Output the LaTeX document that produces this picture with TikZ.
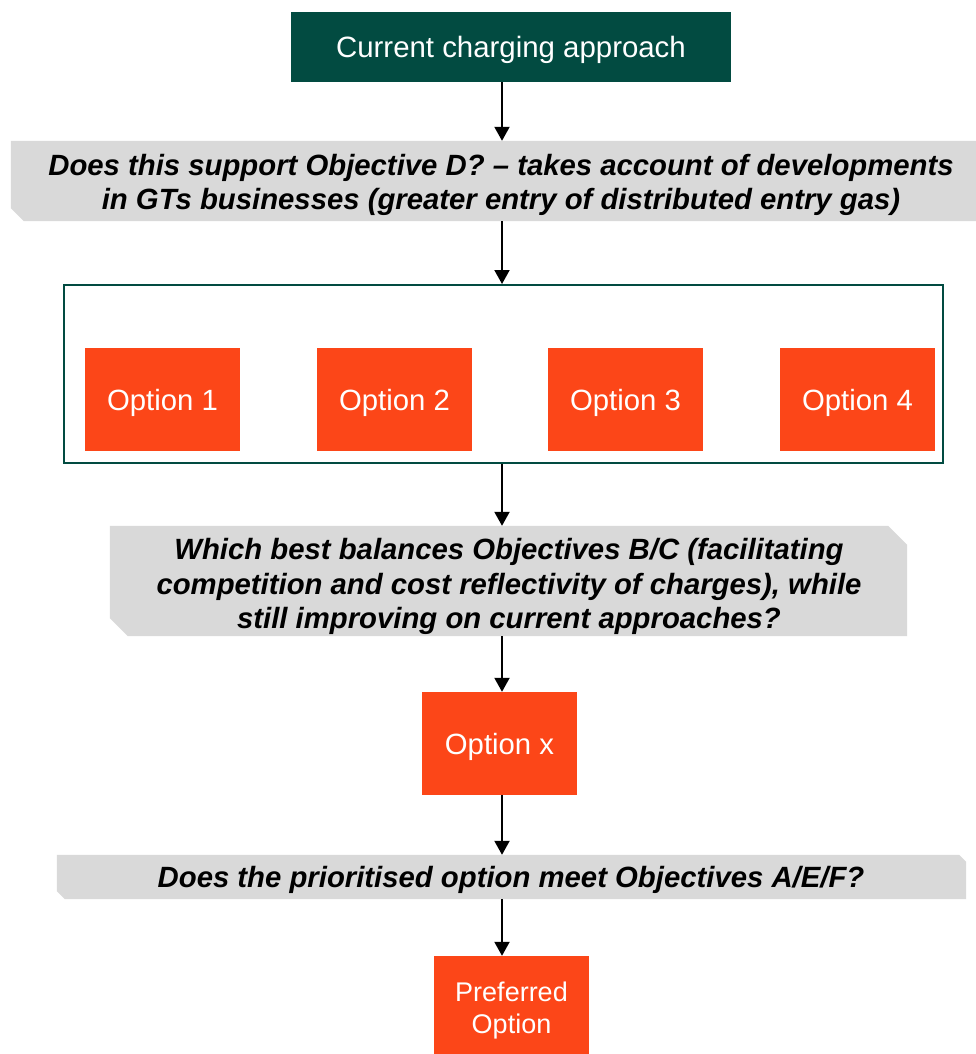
\documentclass[tikz,border=0pt]{standalone}
\usepackage{fontspec}
\setmainfont{Liberation Sans}
\usetikzlibrary{arrows.meta,backgrounds}
\definecolor{dgreen}{HTML}{024B41}
\definecolor{orng}{HTML}{FC4618}
\definecolor{bgray}{HTML}{D9D9D9}
\begin{document}
\begin{tikzpicture}[x=1pt,y=-1pt,
  optbox/.style={fill=orng,text=white,inner sep=0pt,align=center,text depth=0pt,
    font=\fontsize{29.3}{32}\selectfont,minimum width=155pt,minimum height=103pt},
  btext/.style={align=center,inner sep=0pt,font=\fontsize{29.3}{34.5}\selectfont\bfseries\itshape},
  arr/.style={line width=2pt,-{Triangle[width=15pt,length=14pt]}}]
\useasboundingbox (0,0) rectangle (976,1054);
% top box
\node[fill=dgreen,text=white,inner sep=0pt,minimum width=440pt,minimum height=70pt,text depth=0pt,
  font=\fontsize{29.4}{34}\selectfont] (top) at (511,47) {Current charging approach};
% banner 1
\node[inner sep=0pt,minimum width=965pt,minimum height=80pt] (b1) at (493.5,181) {};
\node[btext] (t1) at (501,185) {Does this support Objective D? -- takes account of developments\\in GTs businesses (greater entry of distributed entry gas)};
% container
\node[draw=dgreen,line width=2pt,inner sep=0pt,minimum width=879pt,minimum height=178pt] (cont) at (503.5,374) {};
\node[optbox] (o1) at (162.5,399.5) {Option 1};
\node[optbox] (o2) at (394.5,399.5) {Option 2};
\node[optbox] (o3) at (625.5,399.5) {Option 3};
\node[optbox] (o4) at (857.5,399.5) {Option 4};
% banner 2
\node[inner sep=0pt,minimum width=797pt,minimum height=110pt] (b2) at (508.5,581) {};
\node[btext] (t2) at (509,586.5) {Which best balances Objectives B/C (facilitating\\competition and cost reflectivity of charges), while\\still improving on current approaches?};
% option x
\node[optbox] (ox) at (499.5,743.5) {Option x};
% banner 3
\node[inner sep=0pt,minimum width=909pt,minimum height=44pt] (b3) at (511.5,877) {};
\node[btext] (t3) at (511,880) {Does the prioritised option meet Objectives A/E/F?};
% preferred
\node[optbox,font=\fontsize{27}{32}\selectfont] (pref) at (511.5,1007.5) {Preferred\\Option};
% banner backgrounds
\begin{scope}[on background layer]
\fill[bgray] (b1.north west) -- (b1.north east) -- (b1.south east)
  -- ([xshift=13pt]b1.south west) -- ([yshift=13pt]b1.south west) -- cycle;
\fill[bgray] (b2.north west) -- ([xshift=-19pt]b2.north east) -- ([yshift=-19pt]b2.north east)
  -- (b2.south east) -- ([xshift=18pt]b2.south west) -- ([yshift=18pt]b2.south west) -- cycle;
\fill[bgray] (b3.north west) -- ([xshift=-7pt]b3.north east) -- ([yshift=-7pt]b3.north east)
  -- (b3.south east) -- ([xshift=8pt]b3.south west) -- ([yshift=8pt]b3.south west) -- cycle;
\end{scope}
% arrows
\coordinate (ax) at (502,0);
\draw[arr] (top.south -| ax) -- (b1.north -| ax);
\draw[arr] (b1.south -| ax) -- (cont.north -| ax);
\draw[arr] (cont.south -| ax) -- (b2.north -| ax);
\draw[arr] (b2.south -| ax) -- (ox.north -| ax);
\draw[arr] (ox.south -| ax) -- (b3.north -| ax);
\draw[arr] (b3.south -| ax) -- (pref.north -| ax);
\end{tikzpicture}
\end{document}
